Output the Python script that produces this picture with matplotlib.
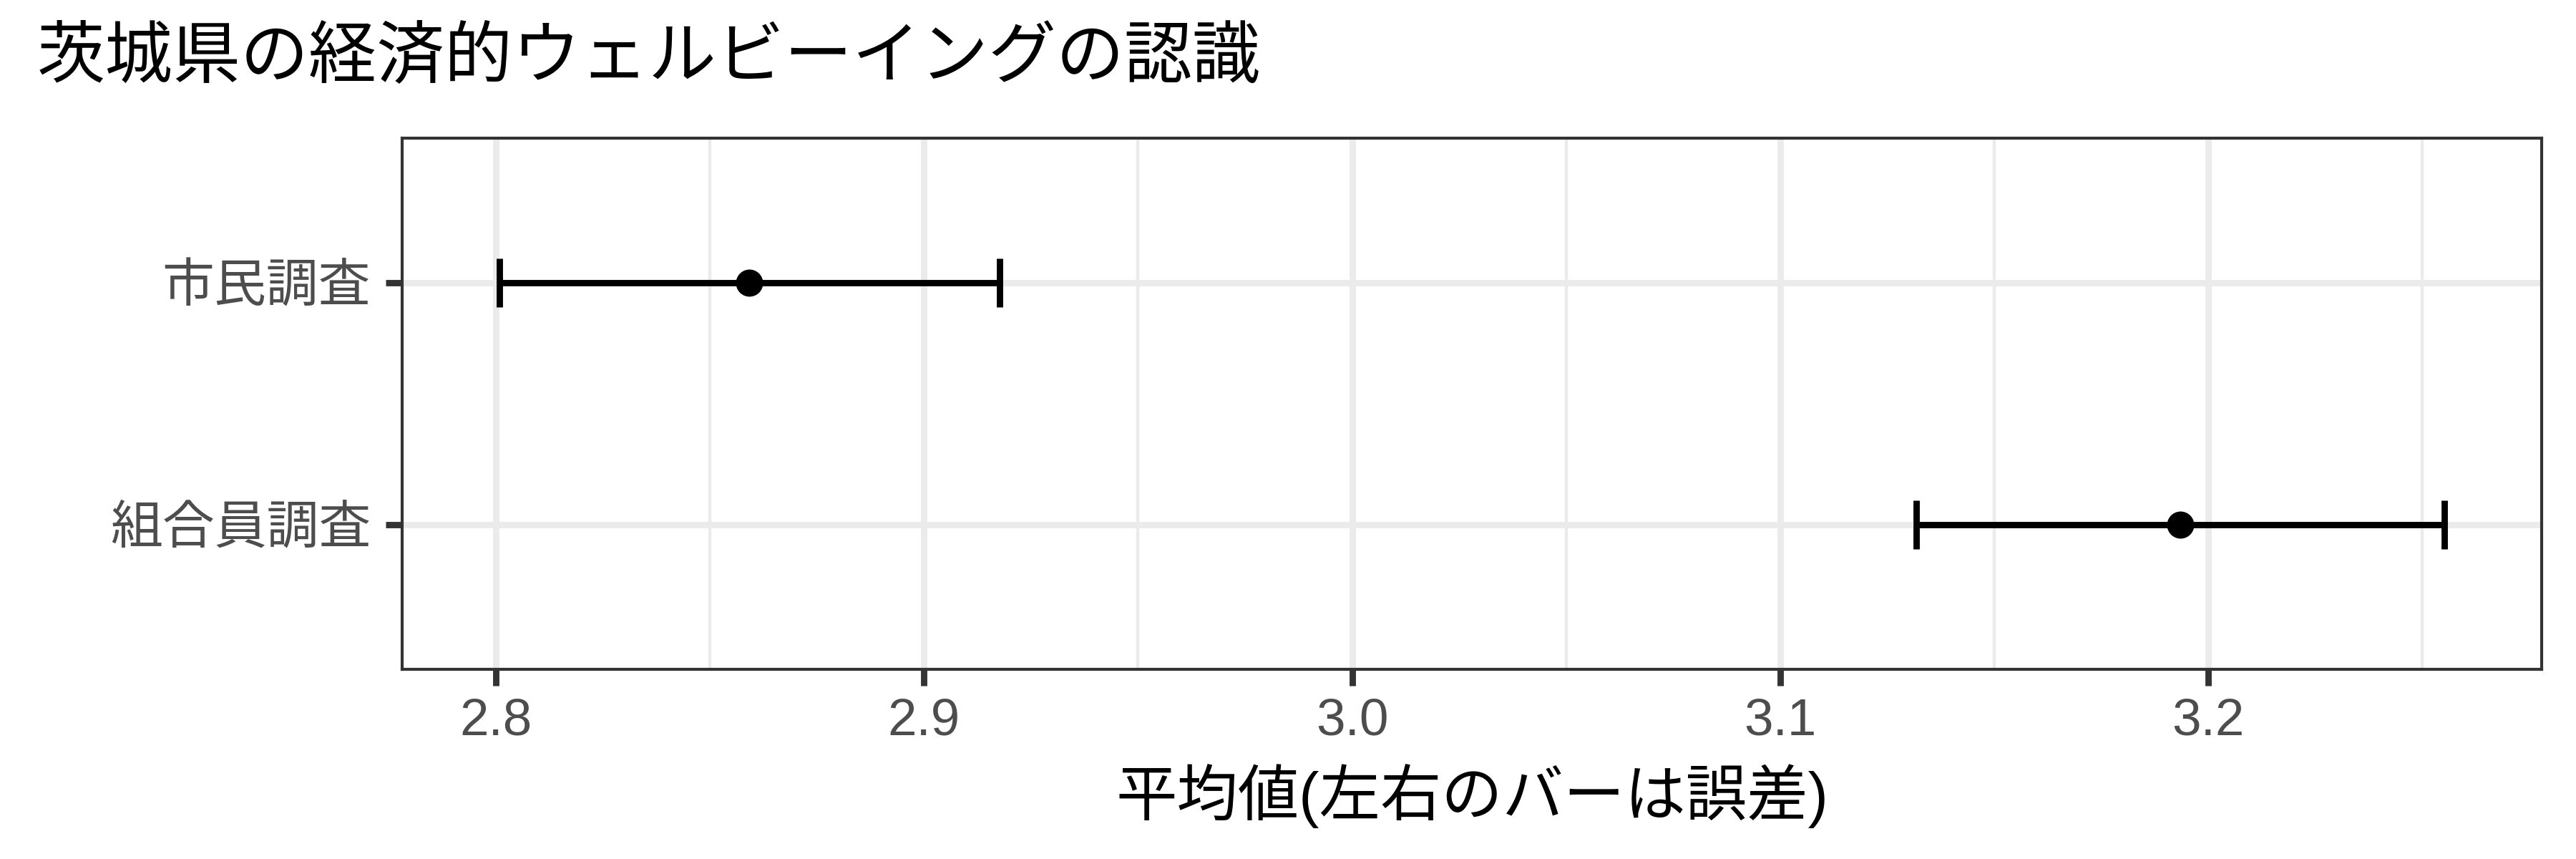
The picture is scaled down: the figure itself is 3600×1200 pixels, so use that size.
import numpy as np
import matplotlib
matplotlib.use("Agg")
import matplotlib.pyplot as plt
from matplotlib.ticker import MultipleLocator

plt.rcParams['font.family'] = ['Liberation Sans', 'Noto Sans CJK JP', 'DejaVu Sans']

# data (bottom to top)
groups = ['組合員調査', '市民調査']
means = np.array([3.1935, 2.8592])
errs = np.array([0.0617, 0.0584])
x_ticks = [2.8, 2.9, 3.0, 3.1, 3.2]
x_tick_labels = ['2.8', '2.9', '3.0', '3.1', '3.2']

title = '茨城県の経済的ウェルビーイングの認識'
xlabel = '平均値(左右のバーは誤差)'

fig = plt.figure(figsize=(12, 4), dpi=300)
ax = fig.add_axes([562/3600, 1-935/1200, (3552-562)/3600, (935-193)/1200])

ypos = np.arange(1, len(groups)+1)

# axis range like ggplot (5% expansion on x, 0.6 on discrete y)
lo = (means - errs).min()
hi = (means + errs).max()
pad = (hi - lo) * 0.05
ax.set_xlim(lo - pad, hi + pad)
ax.set_ylim(0.4, len(groups) + 0.6)
ax.xaxis.set_minor_locator(MultipleLocator(0.05))
ax.set_xticks(x_ticks)
ax.set_xticklabels(x_tick_labels)
ax.set_yticks(ypos)
ax.set_yticklabels(groups)
ax.grid(which='major', color='#EBEBEB', linewidth=2.13, zorder=0)
ax.grid(which='minor', axis='x', color='#EBEBEB', linewidth=1.07, zorder=0)
ax.set_axisbelow(True)

# error bars with caps, then the points
ax.errorbar(means, ypos, xerr=errs, fmt='none', ecolor='black',
            elinewidth=2.13, capsize=8.1, capthick=2.13, zorder=3)
ax.plot(means, ypos, 'o', color='black', markersize=9.1, markeredgewidth=0, zorder=4)

for s in ax.spines.values():
    s.set_color('#333333')
    s.set_linewidth(1.0)

ax.tick_params(which='major', length=5.5, width=2.13, color='#333333',
               labelcolor='#4D4D4D', labelsize=17.5, pad=4)
ax.tick_params(axis='y', pad=5)
ax.tick_params(which='minor', length=0)

ax.set_xlabel(xlabel, fontsize=20.5, color='black', labelpad=6)
fig.text(52/3600, 1-84/1200, title, fontsize=22.8, color='black', ha='left', va='center')

fig.savefig('out.png', dpi=300, facecolor='white')
